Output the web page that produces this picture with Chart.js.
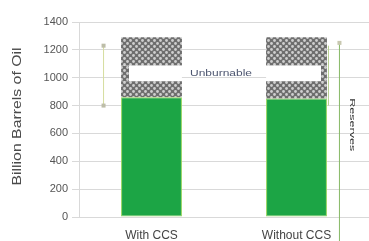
<!DOCTYPE html>
<html>
<head>
<meta charset="utf-8">
<script src="https://cdn.jsdelivr.net/npm/chart.js@4"></script>
<style>
html,body{margin:0;padding:0;background:#fff;overflow:hidden}
#wrap{width:369px;height:241px;position:relative}
</style>
</head>
<body>
<div id="wrap"><canvas id="c"></canvas></div>
<script>
const categories = ['With CCS', 'Without CCS'];
const reserves = [860, 850];
const unburnableLower = [115, 125];
const unburnableGap = [113, 113];
const unburnableUpper = [202, 202];
const yTickStep = 200;
const yMax = 1400;
const unburnableRange = [800, 1230];
const reservesRange = [0, 1250];
const bandLabel = 'Unburnable';
const bracketLabel = 'Reserves';
const yTitle = 'Billion Barrels of Oil';

function makePattern() {
  const p = document.createElement('canvas');
  p.width = 6; p.height = 6;
  const g = p.getContext('2d');
  g.fillStyle = '#6e6e6e';
  g.fillRect(0, 0, 6, 6);
  g.fillStyle = '#cfcfcf';
  [[1.5,1.5],[4.5,4.5]].forEach(([x,y]) => { g.beginPath(); g.arc(x, y, 1.4, 0, Math.PI*2); g.fill(); });
  return g.createPattern(p, 'repeat');
}
const dots = makePattern();

// draw text stretched along its reading direction to a target length
function stretchText(ctx, text, x, y, angle, length, font, color) {
  ctx.save();
  ctx.font = font;
  ctx.fillStyle = color;
  ctx.textAlign = 'center';
  ctx.textBaseline = 'middle';
  const w = ctx.measureText(text).width;
  ctx.translate(x, y);
  ctx.rotate(angle);
  ctx.scale(length / w, 1);
  ctx.fillText(text, 0, 0);
  ctx.restore();
}

const annot = {
  id: 'annot',
  afterDatasetsDraw(chart) {
    const ctx = chart.ctx;
    const y = chart.scales.y;
    const m = chart.getDatasetMeta(0).data;
    const b1 = m[0], b2 = m[1];
    const l1 = b1.x - b1.width / 2, r2 = b2.x + b2.width / 2;
    ctx.save();
    const midVal = reserves[0] + unburnableLower[0] + unburnableGap[0] / 2;
    stretchText(ctx, bandLabel, (b1.x + b2.x) / 2 - 3, y.getPixelForValue(midVal), 0, 62,
      '9px "Liberation Sans", Arial, sans-serif', '#4d5670');
    const bx = l1 - 18;
    ctx.strokeStyle = '#d6dd9e';
    ctx.lineWidth = 1;
    ctx.beginPath();
    ctx.moveTo(bx + 0.5, y.getPixelForValue(unburnableRange[1]));
    ctx.lineTo(bx + 0.5, y.getPixelForValue(unburnableRange[0]));
    ctx.stroke();
    ctx.fillStyle = '#bdbda8';
    [unburnableRange[0], unburnableRange[1]].forEach(v => ctx.fillRect(bx - 1.5, y.getPixelForValue(v) - 2, 4, 4));
    const sx = r2 + 1;
    ctx.strokeStyle = '#b5cf8e';
    ctx.beginPath();
    ctx.moveTo(sx + 0.5, y.getPixelForValue(unburnableRange[1]));
    ctx.lineTo(sx + 0.5, y.getPixelForValue(unburnableRange[0]));
    ctx.stroke();
    const rx = r2 + 12;
    ctx.strokeStyle = '#86b865';
    ctx.beginPath();
    ctx.moveTo(rx + 0.5, y.getPixelForValue(reservesRange[1]));
    ctx.lineTo(rx + 0.5, chart.height);
    ctx.stroke();
    ctx.fillStyle = '#c8c8b0';
    ctx.fillRect(rx - 1.5, y.getPixelForValue(reservesRange[1]) - 2, 4, 4);
    stretchText(ctx, bracketLabel, rx + 13, y.getPixelForValue(reservesRange[1] * 0.53), Math.PI / 2, 53,
      '8px "Liberation Sans", Arial, sans-serif', '#333');
    // y-axis title
    const ca = chart.chartArea;
    stretchText(ctx, yTitle, 17.5, (ca.top + ca.bottom) / 2 - 3, -Math.PI / 2, 138,
      '12px "Liberation Sans", Arial, sans-serif', '#4a4a4a');
    ctx.restore();
  }
};

new Chart(document.getElementById('c'), {
  type: 'bar',
  data: {
    labels: categories,
    datasets: [
      { data: reserves, backgroundColor: '#1ca545', borderColor: '#93d35c', borderWidth: 1, borderSkipped: false },
      { data: unburnableLower, backgroundColor: dots, borderWidth: 0 },
      { data: unburnableGap, backgroundColor: '#ffffff', borderColor: dots,
        borderWidth: (c) => c.dataIndex === 0 ? {left: 8, right: 0, top: 0, bottom: 0} : {left: 0, right: 6, top: 0, bottom: 0},
        borderSkipped: false },
      { data: unburnableUpper, backgroundColor: dots, borderWidth: 0 }
    ]
  },
  options: {
    responsive: true,
    maintainAspectRatio: false,
    animation: false,
    layout: { padding: { top: 22, right: 0, left: 0, bottom: 0 } },
    plugins: { legend: { display: false }, tooltip: { enabled: false } },
    datasets: { bar: { barPercentage: 0.42, categoryPercentage: 1 } },
    scales: {
      x: {
        stacked: true,
        grid: { display: false },
        border: { display: false },
        ticks: { color: '#444', font: { size: 12, family: 'Liberation Sans' }, padding: 3 },
        afterFit: (s) => { s.height = 24; }
      },
      y: {
        stacked: true,
        min: 0, max: yMax,
        ticks: { stepSize: yTickStep, color: '#555', font: { size: 11, family: 'Liberation Sans' }, padding: 4,
          callback: (v) => String(v) },
        grid: { color: '#d9d9d9', tickLength: 7 },
        border: { color: '#d9d9d9' },
        title: { display: false },
        afterFit: (s) => { s.width = 79; }
      }
    }
  },
  plugins: [annot]
});
</script>
</body>
</html>
